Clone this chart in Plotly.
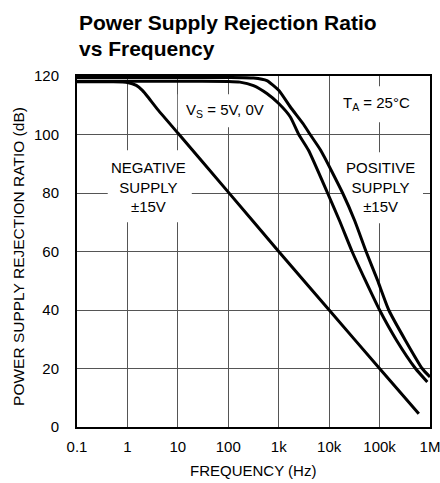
import plotly.graph_objects as go

# Negative supply ±15V
neg_freq = [0.1, 0.5, 1.0, 1.5, 2.0, 2.5, 4.0, 10, 100, 1000, 10000, 100000, 600000]
neg_db = [118, 118, 117.8, 116.8, 115, 113, 108.5, 100.5, 80.3, 60, 40, 20, 4.5]

# Positive supply ±15V (outer curve)
pos_freq = [0.1, 10, 100, 316, 583, 1000, 1700, 3100, 4200, 6800, 18500, 32000, 54000, 91000,
            152000, 326000, 700000, 1000000]
pos_db = [119.5, 119.5, 119.5, 119.3, 118.4, 115.1, 109.4, 103.5, 100, 94.6, 80, 70.6, 60, 50.2,
          40, 29.6, 20, 17.1]

# VS = 5V, 0V (inner curve)
vs_freq = [0.1, 10, 100, 170, 316, 583, 1000, 1700, 2500, 3900, 9300, 16000, 28500, 52000,
           100000, 218000, 516000, 885000]
vs_db = [118.2, 118.2, 118.1, 117.9, 116.7, 114, 110.6, 106, 100, 94.6, 80, 70.6, 60, 50.2,
         40, 29.6, 20, 15.4]

x_tickvals = [0.1, 1, 10, 100, 1e3, 1e4, 1e5, 1e6]
x_ticktext = ["0.1", "1", "10", "100", "1k", "10k", "100k", "1M"]
y_tickvals = [0, 20, 40, 60, 80, 100, 120]

FONT = "Liberation Sans, Arial, sans-serif"

def yp(px):
    return (426.7 - px) / 351.0

def xp(px):
    return (px - 77.3) / 352.7

def px_to_f(px):
    return 10 ** (xp(px) * 7 - 1)

def px_to_db(px):
    return yp(px) * 120

fig = go.Figure()

# white label backgrounds (drawn above the grid, below the curves)
label_boxes = [(108, 150, 192, 222), (178, 94, 272, 127), (336, 86, 418, 122), (343, 152, 423, 223)]
for x0, y0, x1, y1 in label_boxes:
    fa, fb = px_to_f(x0), px_to_f(x1)
    da, db = px_to_db(y1), px_to_db(y0)
    fig.add_trace(go.Scatter(x=[fa, fb, fb, fa, fa], y=[da, da, db, db, da], mode="lines",
                             fill="toself", fillcolor="white", line=dict(width=0, color="white"),
                             showlegend=False, hoverinfo="skip"))

for fx, fy in [(neg_freq, neg_db), (vs_freq, vs_db), (pos_freq, pos_db)]:
    fig.add_trace(go.Scatter(x=fx, y=fy, mode="lines",
                             line=dict(color="black", width=3, shape="spline", smoothing=0.5),
                             showlegend=False, hoverinfo="skip"))

fig.update_layout(
    width=440, height=483,
    margin=dict(l=77, r=10, t=76, b=56, autoexpand=False),
    paper_bgcolor="white", plot_bgcolor="white",
    font=dict(family=FONT, size=15, color="black"),
    showlegend=False,
)
fig.update_xaxes(type="log", range=[-1, 6], tickvals=x_tickvals, ticktext=x_ticktext,
                 showgrid=True, gridcolor="#555", gridwidth=1, automargin=False,
                 showline=True, linecolor="black", linewidth=2, mirror=True,
                 ticks="", tickfont=dict(size=15), zeroline=False, ticklabelstandoff=5,
                 ticklabeloverflow="allow")
fig.update_yaxes(range=[0, 120], tickvals=y_tickvals, automargin=False,
                 showgrid=True, gridcolor="#555", gridwidth=1,
                 showline=True, linecolor="black", linewidth=2, mirror=True,
                 ticks="", tickfont=dict(size=15), zeroline=False, ticklabelstandoff=13,
                 ticklabeloverflow="allow")

anns = [
    dict(text="<b>Power Supply Rejection Ratio</b>", x=xp(77), y=yp(22), xanchor="left", yanchor="middle",
         font=dict(size=21)),
    dict(text="<b>vs Frequency</b>", x=xp(77), y=yp(48), xanchor="left", yanchor="middle",
         font=dict(size=21)),
    dict(text="POWER SUPPLY REJECTION RATIO (dB)", x=xp(19), y=yp(256), textangle=-90,
         xanchor="center", yanchor="middle", font=dict(size=15.5)),
    dict(text="FREQUENCY (Hz)", x=xp(253.5), y=yp(470), xanchor="center", yanchor="middle",
         font=dict(size=15)),
]
for a in anns:
    a.update(xref="paper", yref="paper", showarrow=False)

inplot = [
    dict(text="NEGATIVE<br>SUPPLY<br>±15V", x=0.41, y=82),
    dict(text="V<sub>S</sub> = 5V, 0V", x=1.93, y=108.3),
    dict(text="T<sub>A</sub> = 25°C", x=4.94, y=110.7),
    dict(text="POSITIVE<br>SUPPLY<br>±15V", x=5.02, y=82),
]
for a in inplot:
    a.update(xref="x", yref="y", showarrow=False,
             font=dict(size=15), xanchor="center", yanchor="middle")
fig.update_layout(annotations=anns + inplot)

fig.write_html("out.html", post_script="document.body.style.margin='0';",
               config={"displayModeBar": False})
